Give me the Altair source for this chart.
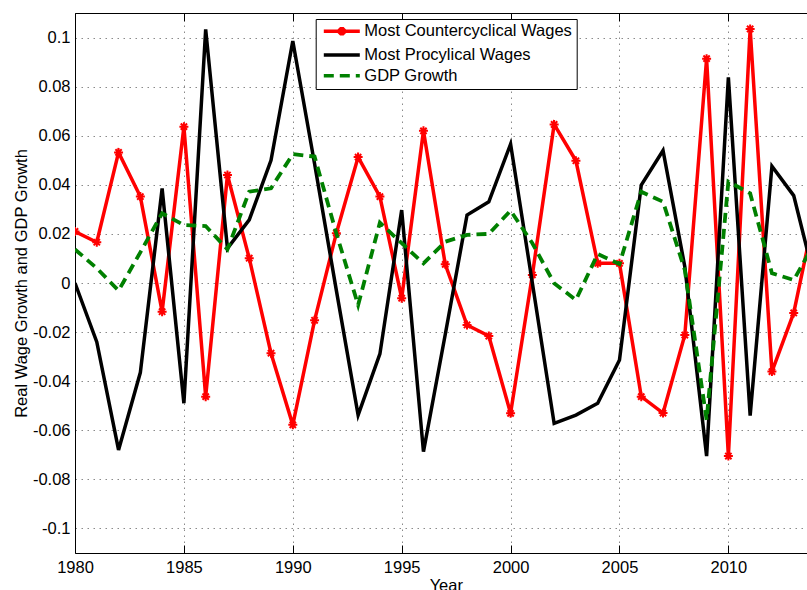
import altair as alt
import pandas as pd

# ---------------- data ----------------
years = list(range(1980, 2015))

counter_wages = [0.0210, 0.0166, 0.0532, 0.0352, -0.0117, 0.0637, -0.0463, 0.0440, 0.0101, -0.0286,
                 -0.0578, -0.0152, 0.0203, 0.0513, 0.0352, -0.0062, 0.0620, 0.0076, -0.0171, -0.0216,
                 -0.0531, 0.0033, 0.0646, 0.0498, 0.0080, 0.0080, -0.0463, -0.0530, -0.0212, 0.0914,
                 -0.0705, 0.1035, -0.0361, -0.0122, 0.0300]

pro_wages = [0.0000, -0.0240, -0.0680, -0.0365, 0.0385, -0.0490, 0.1033, 0.0141, 0.0257, 0.0500,
             0.0986, 0.0486, -0.0030, -0.0538, -0.0289, 0.0297, -0.0687, -0.0210, 0.0277, 0.0331,
             0.0566, 0.0000, -0.0572, -0.0538, -0.0490, -0.0314, 0.0399, 0.0540, 0.0066, -0.0705,
             0.0838, -0.0540, 0.0476, 0.0356, 0.0000]

gdp_growth = [0.0137, 0.0060, -0.0031, 0.0125, 0.0284, 0.0236, 0.0232, 0.0137, 0.0372, 0.0386,
              0.0525, 0.0515, 0.0202, -0.0090, 0.0246, 0.0162, 0.0080, 0.0168, 0.0196, 0.0200,
              0.0295, 0.0162, -0.0001, -0.0069, 0.0118, 0.0077, 0.0372, 0.0331, 0.0053, -0.0558,
              0.0413, 0.0365, 0.0040, 0.0012, 0.0170]

series_names = ["Most Countercyclical Wages", "Most Procylical Wages", "GDP Growth"]
series_colors = ["#ff0000", "#000000", "#008000"]

x_ticks = [1980, 1985, 1990, 1995, 2000, 2005, 2010]
y_ticks = [-0.1, -0.08, -0.06, -0.04, -0.02, 0, 0.02, 0.04, 0.06, 0.08, 0.1]

rows = []
for name, vals in zip(series_names, [counter_wages, pro_wages, gdp_growth]):
    for yr, v in zip(years, vals):
        rows.append({"Year": yr, "value": v, "series": name})
df = pd.DataFrame(rows)

# ---------------- styling ----------------
FONT = "Liberation Sans"
FS = 16.5
GRID_COLOR = "#8a8a8a"
GRID_DASH = [1.5, 4.5]

xscale = alt.Scale(domain=[1980, 2013.61], nice=False, zero=False)
yscale = alt.Scale(domain=[-0.11, 0.11], nice=False, zero=False)
color_scale = alt.Scale(domain=series_names, range=series_colors)

ASTERISK = "M-1,0H1M0,-1V1M-0.7,-0.7L0.7,0.7M-0.7,0.7L0.7,-0.7"
LEG_LINE = "M-3,0H3"
LEG_RED = "M-3,0H3M0,-0.7V0.7M-0.5,-0.5L0.5,0.5M-0.5,0.5L0.5,-0.5"

legend = alt.Legend(
    title=None, orient="none", legendX=240.7, legendY=6, direction="vertical",
    fillColor="white", strokeColor="black", padding=4, symbolOffset=13.85,
    labelOffset=14.25, rowPadding=3.7, symbolSize=144, symbolStrokeWidth=3.5,
    symbolType={"expr": "datum.value === 'Most Countercyclical Wages' ? '" + LEG_RED + "' : '" + LEG_LINE + "'"},
    symbolDash={"expr": "datum.value === 'GDP Growth' ? [10, 6] : [1, 0]"},
    labelFont=FONT, labelFontSize=FS, labelColor="black", labelLimit=0,
)

x_main = alt.Axis(
    orient="bottom", values=x_ticks, format="d", labelFont=FONT, labelFontSize=FS,
    labelColor="black", labelPadding=6, labelFlush=False, labelOverlap=False,
    ticks=False, domain=True, domainColor="black", domainWidth=1,
    grid=True, gridColor=GRID_COLOR, gridDash=GRID_DASH, gridWidth=1,
    title="Year", titleFont=FONT, titleFontSize=FS, titleFontWeight="normal",
    titleColor="black", titleX=370.8, titleY=37.5, titleBaseline="alphabetic",
    titleAlign="center",
)
y_main = alt.Axis(
    orient="left", values=y_ticks,
    labelExpr="datum.value < 0 ? '-' + format(-datum.value, '~g') : format(datum.value, '~g')",
    labelFont=FONT, labelFontSize=FS, labelColor="black", labelPadding=5,
    labelFlush=False, labelOverlap=False,
    ticks=False, domain=True, domainColor="black", domainWidth=1,
    grid=True, gridColor=GRID_COLOR, gridDash=GRID_DASH, gridWidth=1,
    title="Real Wage Growth and GDP Growth", titleFont=FONT, titleFontSize=FS,
    titleFontWeight="normal", titleColor="black", titleX=-49, titleY=270,
    titleAngle=270, titleBaseline="alphabetic", titleAlign="center",
)
x_top = alt.Axis(orient="top", values=x_ticks, labels=False, ticks=False, grid=False,
                 domain=True, domainColor="black", domainWidth=1, title=None)
x_bottom_ticks = alt.Axis(orient="bottom", values=x_ticks, labels=False, grid=False, domain=False,
                          ticks=True, tickSize=8, tickColor="black", tickWidth=1, offset=-8, title=None)
x_top_ticks = alt.Axis(orient="top", values=x_ticks, labels=False, grid=False, domain=False,
                       ticks=True, tickSize=8, tickColor="black", tickWidth=1, offset=-8, title=None)

base = alt.Chart(df)


def sel(name):
    return base.transform_filter(alt.datum.series == name)


color_enc = alt.Color("series:N", scale=color_scale, legend=legend)

red_line = sel(series_names[0]).mark_line(strokeWidth=3.5, clip=True, strokeCap="butt").encode(
    x=alt.X("Year:Q", scale=xscale, axis=x_main),
    y=alt.Y("value:Q", scale=yscale, axis=y_main),
    color=color_enc,
)
red_pts = sel(series_names[0]).mark_point(shape=ASTERISK, size=81, strokeWidth=2, filled=False,
                                          opacity=1, clip=True, color="#ff0000").encode(
    x=alt.X("Year:Q", scale=xscale, axis=x_top),
    y=alt.Y("value:Q", scale=yscale, axis=None),
)
black_line = sel(series_names[1]).mark_line(strokeWidth=3.5, clip=True, strokeCap="butt").encode(
    x=alt.X("Year:Q", scale=xscale, axis=x_bottom_ticks),
    y=alt.Y("value:Q", scale=yscale, axis=None),
    color=color_enc,
)
green_line = sel(series_names[2]).mark_line(strokeWidth=3.8, clip=True, strokeDash=[10, 6],
                                            strokeCap="butt").encode(
    x=alt.X("Year:Q", scale=xscale, axis=x_top_ticks),
    y=alt.Y("value:Q", scale=yscale, axis=None),
    color=color_enc,
)

chart = (
    alt.layer(red_line, red_pts, black_line, green_line)
    .resolve_axis(x="independent", y="independent")
    .properties(
        width=732, height=540,
        padding={"left": 75, "top": 13, "right": 0, "bottom": 37},
        autosize=alt.AutoSizeParams(type="none"),
        background="white",
    )
    .configure_view(stroke=None)
)

chart.save("out.html", embed_options={"renderer": "svg", "actions": False})
